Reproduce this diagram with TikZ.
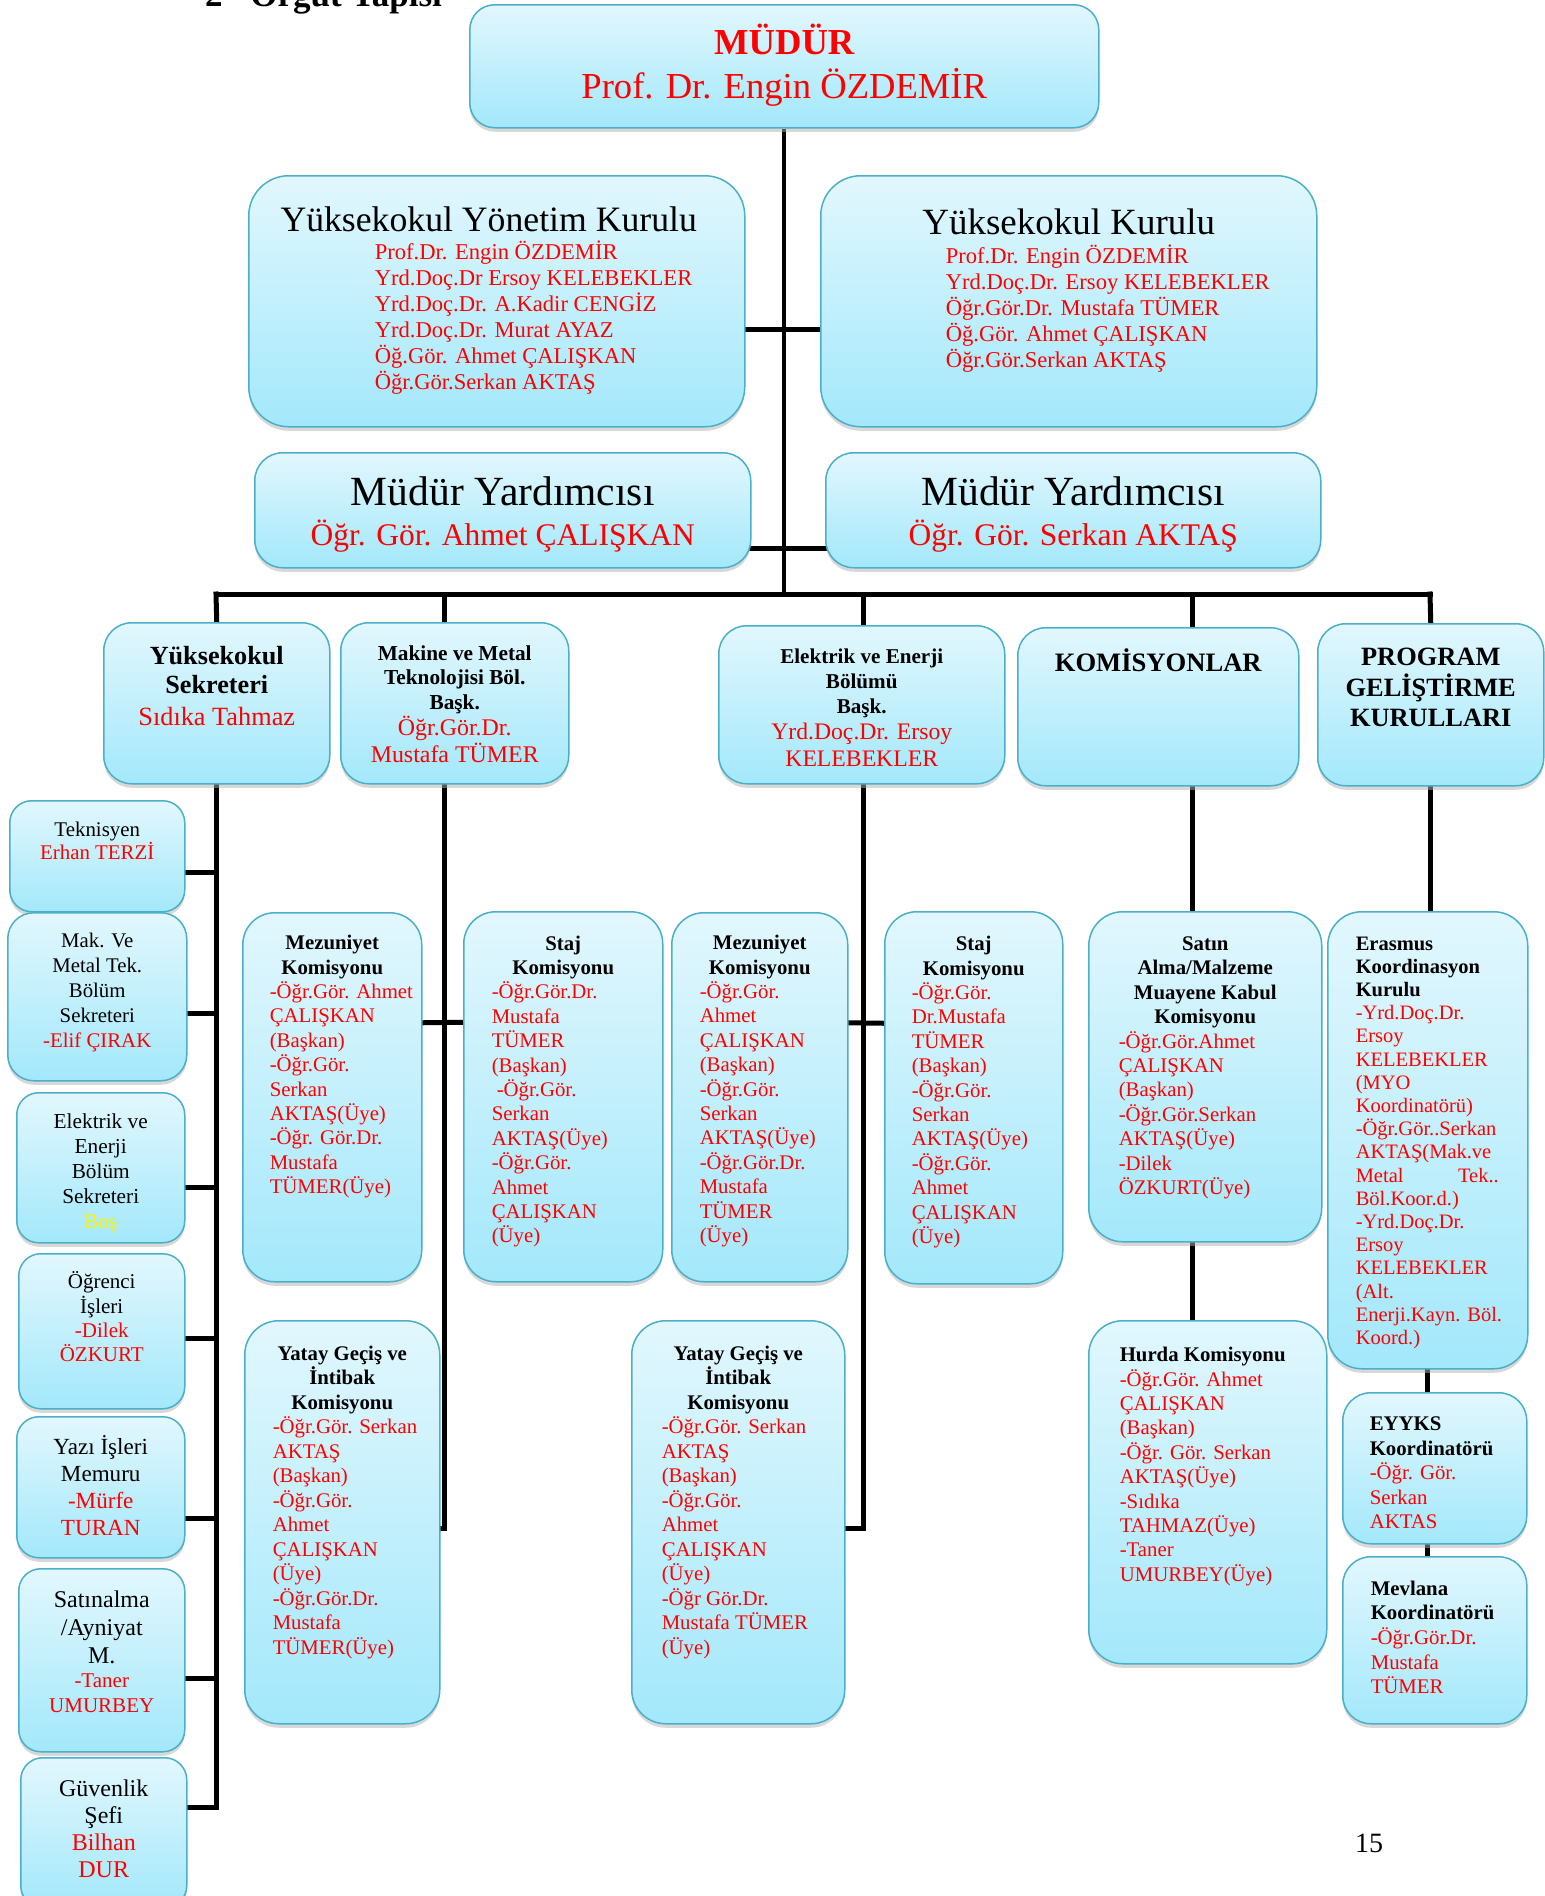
\documentclass[tikz,border=0pt]{standalone}
\usepackage{fontspec}
\setmainfont{Liberation Serif}
\usetikzlibrary{shadows,backgrounds}

\definecolor{celltop}{HTML}{E2F7FD}
\definecolor{cellbot}{HTML}{A3E8FB}
\definecolor{cellrim}{HTML}{4AAFC8}

% box text: width, height, top gap, lines
\newcommand{\cbox}[4]{\parbox[c][#2pt][t]{#1pt}{\vspace*{#3pt}#4}}
\newcommand{\fs}[2]{\fontsize{#1pt}{#2pt}\selectfont}
\newcommand{\ctr}[1]{{\centering#1\par}}
\newcommand{\ttl}[1]{{\centering\bfseries#1\par}}
\newcommand{\ltl}[2]{{\raggedright\leftskip=#1pt\bfseries#2\par}}
\newcommand{\mem}[2]{{\raggedright\leftskip=#1pt\color{red}#2\par}}

\tikzset{
  unit/.style={draw=cellrim, line width=1.5pt, rounded corners=#1,
    top color=celltop, bottom color=cellbot, inner sep=0pt, anchor=north west,
    drop shadow={shadow xshift=0pt, shadow yshift=-4pt, fill=gray!60}},
  unit/.default=28pt,
  link/.style={line width=5pt, line cap=rect},
  trunk/.style={line width=4pt}
}

\begin{document}
\begin{tikzpicture}[x=1pt,y=-1pt]
\useasboundingbox (0,0) rectangle (1545,1896);
\begin{scope}[on background layer]
\fill[white] (0,0) rectangle (1545,1896);
\end{scope}

% heading and page number
\node[anchor=base west, font=\bfseries\fs{35}{40}, inner sep=0pt] (hdr) at (205,6) {2-\hspace{16pt}Örgüt Yapısı};
\node[font=\fs{28}{32}] (pg) at (1369,1843) {15};

% top
\node[unit=25pt] (mudur) at (469,4) {\cbox{629}{123}{19}{\fs{36.6}{44}\ttl{\color{red}MÜDÜR}\ctr{\color{red}Prof. Dr. Engin ÖZDEMİR}}};
\node[unit=40pt] (ykyon) at (248,175) {\cbox{496}{251}{30.5}{\fs{35.7}{40}\ctr{\hspace*{-16pt}Yüksekokul Yönetim Kurulu}\vspace{2.7pt}\fs{22.6}{26}\mem{126}{Prof.Dr. Engin ÖZDEMİR\\Yrd.Doç.Dr Ersoy KELEBEKLER\\Yrd.Doç.Dr. A.Kadir CENGİZ\\Yrd.Doç.Dr. Murat AYAZ\\Öğ.Gör. Ahmet ÇALIŞKAN\\Öğr.Gör.Serkan AKTAŞ}}};
\node[unit=40pt] (ykkur) at (820,175) {\cbox{496}{251}{32.8}{\fs{37}{40}\ctr{Yüksekokul Kurulu}\vspace{3.3pt}\fs{22.6}{26}\mem{125}{Prof.Dr. Engin ÖZDEMİR\\Yrd.Doç.Dr. Ersoy KELEBEKLER\\Öğr.Gör.Dr. Mustafa TÜMER\\Öğ.Gör. Ahmet ÇALIŞKAN\\Öğr.Gör.Serkan AKTAŞ}}};
\node[unit] (myrd1) at (254,452) {\cbox{496}{115}{24.3}{\fs{41.5}{48}\ctr{Müdür Yardımcısı}\fs{31.5}{39.7}\ctr{\color{red}Öğr. Gör. Ahmet ÇALIŞKAN}}};
\node[unit] (myrd2) at (825,452) {\cbox{495}{115}{24.3}{\fs{41.5}{48}\ctr{Müdür Yardımcısı}\fs{31.5}{39.7}\ctr{\color{red}Öğr. Gör. Serkan AKTAŞ}}};

% second row
\node[unit] (sekr) at (103,622) {\cbox{226}{161}{23.8}{\fs{26.2}{29}\ttl{Yüksekokul\\Sekreteri}\fs{26.3}{32}\ctr{\color{red}Sıdıka Tahmaz}}};
\node[unit] (makb) at (340,622) {\cbox{228}{161}{22.5}{\fs{21.3}{24.5}\ttl{Makine ve Metal\\Teknolojisi Böl.\\Başk.}\fs{23.9}{26.5}\ctr{\color{red}Öğr.Gör.Dr.\\Mustafa TÜMER}}};
\node[unit] (elkb) at (718,625) {\cbox{286}{158}{22.6}{\fs{21.1}{25}\ttl{Elektrik ve Enerji\\Bölümü\\Başk.}\fs{23.7}{26.5}\ctr{\color{red}Yrd.Doç.Dr. Ersoy\\KELEBEKLER}}};
\node[unit] (koms) at (1017,627) {\cbox{281}{158}{21}{\fs{26.6}{30}\ttl{KOMİSYONLAR}}};
\node[unit] (prog) at (1317,623) {\cbox{226}{162}{24.3}{\fs{26.4}{30.5}\ttl{PROGRAM\\GELİŞTİRME\\KURULLARI}}};

% left column
\node[unit=22pt] (tekn) at (9,800) {\cbox{175}{111}{21.7}{\fs{20.9}{22.3}\ctr{Teknisyen\\\color{red}Erhan TERZİ}}};
\node[unit=26pt] (makse) at (7,912) {\cbox{179}{168}{20.7}{\fs{20.8}{24.8}\ctr{Mak. Ve\\Metal Tek.\\Bölüm\\Sekreteri\\\color{red}-Elif ÇIRAK}}};
\node[unit=22pt] (elkse) at (16,1092) {\cbox{168}{150}{20.5}{\fs{21.3}{25}\ctr{Elektrik ve\\Enerji\\Bölüm\\Sekreteri\\\color{yellow}Boş}}};
\node[unit=22pt] (ogr) at (18,1253) {\cbox{166}{155}{18}{\fs{21}{24.3}\ctr{Öğrenci\\İşleri\\\color{red}-Dilek\\ÖZKURT}}};
\node[unit=22pt] (yazi) at (16,1416) {\cbox{168}{141}{18.7}{\fs{23.1}{27}\ctr{Yazı İşleri\\Memuru\\\color{red}-Mürfe\\TURAN}}};
\node[unit=22pt] (satin) at (18,1568) {\cbox{166}{183}{21.6}{\fs{24}{28}\ctr{Satınalma\\/Ayniyat\\M.}\fs{21}{24.5}\ctr{\color{red}-Taner\\UMURBEY}}};
\node[unit=22pt] (guv) at (20,1757) {\cbox{166}{150}{21.6}{\fs{24}{27}\ctr{Güvenlik\\Şefi\\\color{red}Bilhan\\DUR}}};

% committees
\node[unit=32pt] (mez1) at (242,912) {\cbox{179}{369}{22.5}{\fs{20.8}{24.4}\ttl{Mezuniyet\\Komisyonu}\mem{27}{-Öğr.Gör. Ahmet\\ÇALIŞKAN\\(Başkan)\\-Öğr.Gör.\\Serkan\\AKTAŞ(Üye)\\-Öğr. Gör.Dr.\\Mustafa\\TÜMER(Üye)}}};
\node[unit=32pt] (staj1) at (463,911) {\cbox{199}{370}{24}{\fs{20.8}{24.4}\ttl{Staj\\Komisyonu}\mem{28}{-Öğr.Gör.Dr.\\Mustafa\\TÜMER\\(Başkan)\\\hspace*{5pt}-Öğr.Gör.\\Serkan\\AKTAŞ(Üye)\\-Öğr.Gör.\\Ahmet\\ÇALIŞKAN\\(Üye)}}};
\node[unit=32pt] (mez2) at (671,912) {\cbox{176}{369}{22.5}{\fs{20.8}{24.4}\ttl{Mezuniyet\\Komisyonu}\mem{28}{-Öğr.Gör.\\Ahmet\\ÇALIŞKAN\\(Başkan)\\-Öğr.Gör.\\Serkan\\AKTAŞ(Üye)\\-Öğr.Gör.Dr.\\Mustafa\\TÜMER\\(Üye)}}};
\node[unit=32pt] (staj2) at (884,911) {\cbox{178}{372}{24.5}{\fs{20.8}{24.4}\ttl{Staj\\Komisyonu}\mem{27}{-Öğr.Gör.\\Dr.Mustafa\\TÜMER\\(Başkan)\\-Öğr.Gör.\\Serkan\\AKTAŞ(Üye)\\-Öğr.Gör.\\Ahmet\\ÇALIŞKAN\\(Üye)}}};
\node[unit=34pt] (satal) at (1088,911) {\cbox{233}{330}{25}{\fs{20.8}{24.4}\ttl{Satın\\Alma/Malzeme\\Muayene Kabul\\Komisyonu}\mem{30}{-Öğr.Gör.Ahmet\\ÇALIŞKAN\\(Başkan)\\-Öğr.Gör.Serkan\\AKTAŞ(Üye)\\-Dilek\\ÖZKURT(Üye)}}};
\node[unit=34pt] (erasmus) at (1327,911) {\cbox{200}{457}{25}{\fs{20.5}{23.2}\ltl{28}{Erasmus\\Koordinasyon\\Kurulu}\mem{28}{-Yrd.Doç.Dr.\\Ersoy\\KELEBEKLER\\(MYO\\Koordinatörü)\\-Öğr.Gör..Serkan\\AKTAŞ(Mak.ve\\\makebox[143pt][l]{Metal\hfill Tek..}\\Böl.Koor.d.)\\-Yrd.Doç.Dr.\\Ersoy\\KELEBEKLER\\(Alt.\\Enerji.Kayn. Böl.\\Koord.)}}};
\node[unit=34pt] (yatay1) at (244,1320) {\cbox{195}{403}{25}{\fs{20.8}{24.5}\ttl{Yatay Geçiş ve\\İntibak\\Komisyonu}\mem{28}{-Öğr.Gör. Serkan\\AKTAŞ\\(Başkan)\\-Öğr.Gör.\\Ahmet\\ÇALIŞKAN\\(Üye)\\-Öğr.Gör.Dr.\\Mustafa\\TÜMER(Üye)}}};
\node[unit=34pt] (yatay2) at (631,1320) {\cbox{213}{403}{25}{\fs{20.8}{24.5}\ttl{Yatay Geçiş ve\\İntibak\\Komisyonu}\mem{30}{-Öğr.Gör. Serkan\\AKTAŞ\\(Başkan)\\-Öğr.Gör.\\Ahmet\\ÇALIŞKAN\\(Üye)\\-Öğr Gör.Dr.\\Mustafa TÜMER\\(Üye)}}};
\node[unit=34pt] (hurda) at (1088,1320) {\cbox{238}{343}{26.5}{\fs{20.8}{24.4}\ltl{31}{Hurda Komisyonu}\mem{31}{-Öğr.Gör. Ahmet\\ÇALIŞKAN\\(Başkan)\\-Öğr. Gör. Serkan\\AKTAŞ(Üye)\\-Sıdıka\\TAHMAZ(Üye)\\-Taner\\UMURBEY(Üye)}}};
\node[unit] (eyyks) at (1342,1392) {\cbox{184}{151}{24}{\fs{20.8}{24.6}\ltl{27}{EYYKS\\Koordinatörü}\mem{27}{-Öğr. Gör.\\Serkan\\AKTAS}}};
\node[unit] (mevlana) at (1342,1556) {\cbox{184}{167}{24}{\fs{20.8}{24.6}\ltl{28}{Mevlana\\Koordinatörü}\mem{28}{-Öğr.Gör.Dr.\\Mustafa\\TÜMER}}};

% lines
\begin{scope}[on background layer]
\coordinate (bsek) at (216,594);
\coordinate (bmak) at (444,594);
\coordinate (belk) at (863,594);
\coordinate (bkom) at (1192,594);
\coordinate (bprg) at (1430,594);
\draw[trunk] (mudur.south) -- (mudur.south |- bsek);
\draw[link] ([yshift=-28.5pt]ykyon.east) -- ([yshift=-28.5pt]ykkur.west);
\draw[link] ([yshift=-38.5pt]myrd1.east) -- ([yshift=-38.5pt]myrd2.west);
\draw[link] (bsek) -- (bprg);
\draw[link] (bsek) -- (sekr.north);
\draw[link] (bmak) -- (bmak |- makb.north);
\draw[link] (belk) -- (belk |- elkb.north);
\draw[link] (bkom) -- (bkom |- koms.north);
\draw[link] (bprg) -- (prog.north);
% left column
\draw[link] (sekr.south) |- ([yshift=25pt]guv.east);
\draw[link] ([yshift=-16.5pt]tekn.east) -| (sekr.south);
\draw[link] ([yshift=-17pt]makse.east) -| (sekr.south);
\draw[link] ([yshift=-20pt]elkse.east) -| (sekr.south);
\draw[link] ([yshift=-7.5pt]ogr.east) -| (sekr.south);
\draw[link] ([yshift=-31.5pt]yazi.east) -| (sekr.south);
\draw[link] ([yshift=-18.5pt]satin.east) -| (sekr.south);
% departments
\draw[link] (bmak |- makb.south) |- ([yshift=-6.5pt]yatay1.east);
\draw[link] ([yshift=74.5pt]mez1.east) -- ([yshift=74.5pt]staj1.west);
\draw[link] (belk |- elkb.south) |- ([yshift=-6.5pt]yatay2.east);
\draw[link] ([yshift=74.5pt]mez2.east) -- ([yshift=74.5pt]staj2.west);
\draw[link] (bkom |- koms.south) -- (bkom |- satal.north);
\draw[link] (bkom |- satal.south) -- (bkom |- hurda.north);
\draw[link] (prog.south) -- (prog.south |- erasmus.north);
\draw[link] (erasmus.south) -- (erasmus.south |- eyyks.north);
\draw[link] (erasmus.south |- eyyks.south) -- (erasmus.south |- mevlana.north);
\end{scope}
\end{tikzpicture}
\end{document}
